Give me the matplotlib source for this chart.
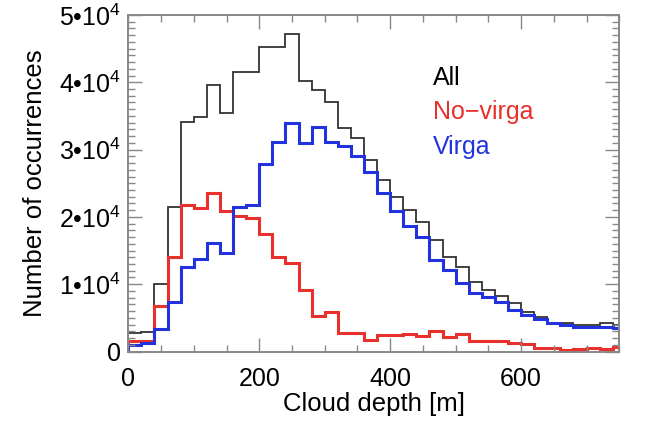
import numpy as np
import matplotlib
matplotlib.use('Agg')
import matplotlib.pyplot as plt
from matplotlib.ticker import MultipleLocator, FuncFormatter

plt.rcParams['font.family'] = ['Liberation Sans', 'DejaVu Sans']
plt.rcParams['mathtext.fontset'] = 'custom'
plt.rcParams['mathtext.rm'] = 'Liberation Sans'

# 20 m bins of cloud depth
bin_edges = np.arange(0, 780, 20)

all_counts = [2700, 2900, 10100, 21400, 34100, 34900, 39600, 35400, 41600, 41600,
              45300, 45200, 47200, 40200, 38900, 37100, 33200, 31700, 28500, 25500,
              23000, 21000, 19200, 16600, 14000, 12600, 10400, 9200, 8300, 7200,
              5900, 5200, 4300, 4300, 3900, 3900, 4200, 3900]
novirga_counts = [1600, 1500, 6800, 14000, 21800, 21300, 23500, 20900, 20100, 19800,
                  17500, 14100, 13100, 9100, 5300, 5800, 2800, 2800, 1700, 2500,
                  2500, 2600, 2300, 3000, 2100, 2600, 1600, 1600, 1500, 1200,
                  1100, 500, 500, 200, 400, 500, 400, 700]
virga_counts = [1000, 1200, 3400, 7400, 12500, 13700, 16100, 14600, 21400, 21800,
                27900, 31200, 34000, 31000, 33300, 31200, 30500, 29000, 26700, 23500,
                20900, 18600, 17000, 13600, 12100, 10200, 8700, 8100, 7300, 6200,
                5400, 4800, 4200, 3900, 3600, 3700, 3600, 3500]

fig = plt.figure(figsize=(6.46, 4.21), dpi=100)
ax = fig.add_axes([0.1986, 0.165, 0.7601, 0.7994])

ax.stairs(all_counts, bin_edges, color='#333333', linewidth=1.3)
ax.stairs(novirga_counts, bin_edges, color='#e8302c', linewidth=2.2)
ax.stairs(virga_counts, bin_edges, color='#2233dd', linewidth=2.2)

ax.set_xlim(0, 750)
ax.set_ylim(0, 50000)

ax.xaxis.set_major_locator(MultipleLocator(200))
ax.xaxis.set_minor_locator(MultipleLocator(50))
ax.yaxis.set_major_locator(MultipleLocator(10000))
ax.yaxis.set_minor_locator(MultipleLocator(1000))


def sci_fmt(v, pos):
    if v == 0:
        return '0'
    return '%d•10$^4$' % round(v / 10000)


ax.yaxis.set_major_formatter(FuncFormatter(sci_fmt))

for s in ax.spines.values():
    s.set_color('#888888')
    s.set_linewidth(1.4)
ax.tick_params(which='both', direction='in', top=True, right=True,
               color='#888888', labelsize=18, width=1.0)
ax.tick_params(which='major', length=10)
ax.tick_params(which='minor', length=5)
ax.tick_params(axis='x', which='major', pad=11)
ax.tick_params(axis='y', which='major', pad=5)

ax.set_xlabel('Cloud depth [m]', fontsize=18.5, labelpad=1)
ax.set_ylabel('Number of occurrences', fontsize=18.5, labelpad=9)

# legend as coloured text
ax.text(466, 40700, 'All', color='black', fontsize=18, va='center')
ax.text(466, 35600, 'No\u2212virga', color='#e8302c', fontsize=18, va='center')
ax.text(466, 30400, 'Virga', color='#2233dd', fontsize=18, va='center')

plt.savefig('out.png', dpi=100)
